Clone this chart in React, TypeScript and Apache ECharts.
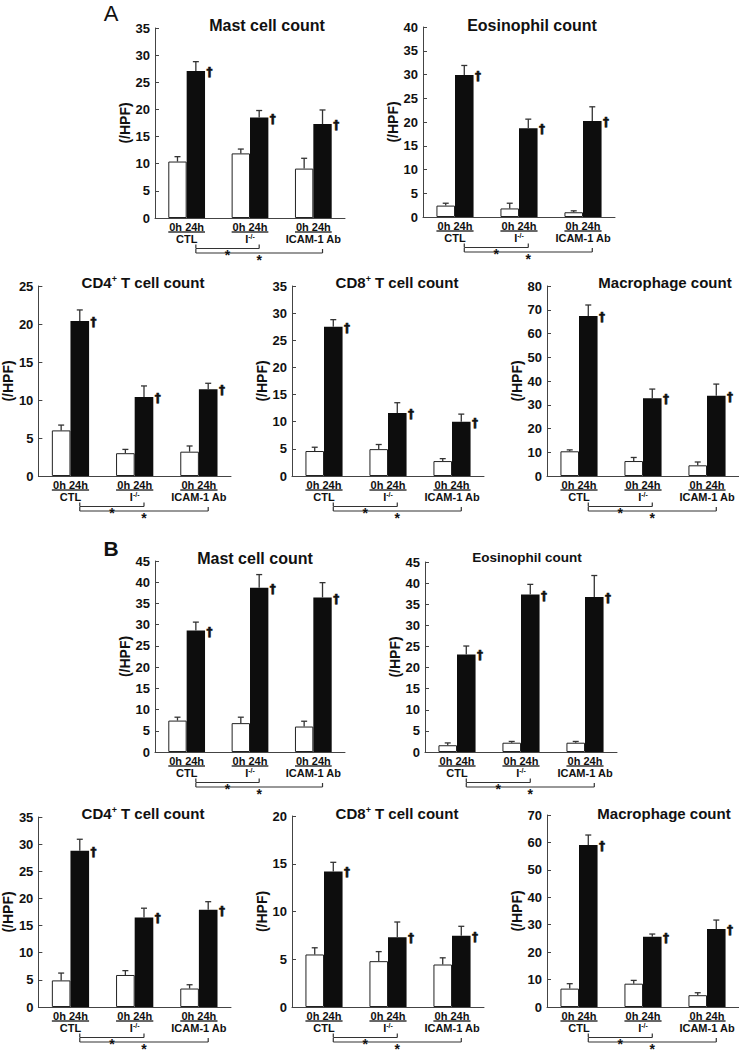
import React, { useEffect, useRef } from 'react';
import * as echarts from 'echarts';

const FONT = '"Liberation Sans", Arial, Helvetica, sans-serif';

// Categories and x-axis texts
const groups = ['CTL', 'I-/-', 'ICAM-1 Ab'];
const timeLabel = '0h 24h';
const yName = '(/HPF)';

// ---------- Panel A ----------
const aMast0h = [10.4, 11.9, 9.1];
const aMast0hErr = [0.9, 0.8, 1.9];
const aMast24h = [27.1, 18.5, 17.3];
const aMast24hErr = [1.7, 1.3, 2.6];

const aEos0h = [2.4, 1.8, 1.0];
const aEos0hErr = [0.5, 1.1, 0.3];
const aEos24h = [29.9, 18.7, 20.2];
const aEos24hErr = [2.0, 1.9, 3.0];

const aCd40h = [6.0, 3.0, 3.2];
const aCd40hErr = [0.7, 0.5, 0.75];
const aCd424h = [20.4, 10.4, 11.4];
const aCd424hErr = [1.45, 1.45, 0.8];

const aCd80h = [4.6, 4.95, 2.75];
const aCd80hErr = [0.7, 0.85, 0.45];
const aCd824h = [27.5, 11.6, 10.0];
const aCd824hErr = [1.3, 1.9, 1.4];

const aMac0h = [10.4, 6.3, 4.5];
const aMac0hErr = [0.6, 1.5, 1.4];
const aMac24h = [67.4, 32.7, 33.8];
const aMac24hErr = [4.6, 3.9, 4.9];

// ---------- Panel B ----------
const bMast0h = [7.4, 6.8, 6.0];
const bMast0hErr = [0.8, 1.4, 1.25];
const bMast24h = [28.6, 38.7, 36.4];
const bMast24hErr = [2.0, 3.1, 3.5];

const bEos0h = [1.6, 2.2, 2.2];
const bEos0hErr = [0.55, 0.3, 0.3];
const bEos24h = [23.1, 37.3, 36.7];
const bEos24hErr = [2.0, 2.4, 5.1];

const bCd40h = [4.9, 5.9, 3.4];
const bCd40hErr = [1.35, 0.8, 0.7];
const bCd424h = [28.8, 16.5, 17.9];
const bCd424hErr = [2.1, 1.7, 1.5];

const bCd80h = [5.5, 4.8, 4.45];
const bCd80hErr = [0.7, 1.0, 0.7];
const bCd824h = [14.2, 7.3, 7.45];
const bCd824hErr = [0.95, 1.6, 1.0];

const bMac0h = [6.7, 8.5, 4.3];
const bMac0hErr = [1.8, 1.2, 0.9];
const bMac24h = [59.1, 25.6, 28.4];
const bMac24hErr = [3.6, 1.0, 3.3];

// y-axis ranges (max, step) per panel
const yMax = [35, 40, 25, 35, 80, 45, 45, 35, 20, 70];
const yStep = [5, 5, 5, 5, 10, 5, 5, 5, 5, 10];

const titles = [
  'Mast cell count',
  'Eosinophil count',
  'CD4{s|+} T cell count',
  'CD8{s|+} T cell count',
  'Macrophage count',
  'Mast cell count',
  'Eosinophil count',
  'CD4{s|+} T cell count',
  'CD8{s|+} T cell count',
  'Macrophage count',
];

const panelData = [
  [aMast0h, aMast0hErr, aMast24h, aMast24hErr],
  [aEos0h, aEos0hErr, aEos24h, aEos24hErr],
  [aCd40h, aCd40hErr, aCd424h, aCd424hErr],
  [aCd80h, aCd80hErr, aCd824h, aCd824hErr],
  [aMac0h, aMac0hErr, aMac24h, aMac24hErr],
  [bMast0h, bMast0hErr, bMast24h, bMast24hErr],
  [bEos0h, bEos0hErr, bEos24h, bEos24hErr],
  [bCd40h, bCd40hErr, bCd424h, bCd424hErr],
  [bCd80h, bCd80hErr, bCd824h, bCd824hErr],
  [bMac0h, bMac0hErr, bMac24h, bMac24hErr],
];

// Layout (pixels)
const layouts = [
  { left: 155, top: 28, width: 190, height: 190, tx: 267, ty: 25, ts: 16 },
  { left: 423, top: 27, width: 192, height: 190, tx: 532, ty: 25, ts: 16 },
  { left: 38, top: 286, width: 193, height: 190, tx: 143, ty: 282, ts: 15 },
  { left: 292, top: 286, width: 192, height: 190, tx: 397, ty: 282, ts: 15 },
  { left: 547, top: 286, width: 192, height: 190, tx: 665, ty: 282, ts: 15 },
  { left: 155, top: 561, width: 190, height: 191, tx: 255, ty: 558, ts: 16 },
  { left: 425, top: 562, width: 192, height: 190, tx: 527, ty: 557, ts: 13.5 },
  { left: 38, top: 817, width: 193, height: 190, tx: 143, ty: 813, ts: 15 },
  { left: 292, top: 816, width: 192, height: 191, tx: 397, ty: 813, ts: 15 },
  { left: 547, top: 815, width: 192, height: 192, tx: 664, ty: 813, ts: 15 },
];

const BAR_FRAC = 0.29;
const INK = '#111';
const AXIS = '#444';

function textEl(text: string, x: number, y: number, size: number, extra: any = {}) {
  return {
    type: 'text',
    x,
    y,
    style: {
      text,
      fill: INK,
      fontSize: size,
      fontWeight: 'bold',
      fontFamily: FONT,
      align: 'center',
      verticalAlign: 'middle',
      ...extra,
    },
  };
}

function lineEl(x1: number, y1: number, x2: number, y2: number, w = 1.2) {
  return {
    type: 'line',
    shape: { x1, y1, x2, y2 },
    style: { stroke: '#333', lineWidth: w },
  };
}

const errorRender = (params: any, api: any) => {
  const ci = api.value(0);
  const v = api.value(1);
  const e = api.value(2);
  const side = api.value(3);
  const band = api.size([1, 0])[0];
  const bw = band * BAR_FRAC;
  const base = api.coord([ci, v]);
  const top = api.coord([ci, v + e]);
  const x = base[0] + (side * bw) / 2;
  const children: any[] = [
    lineEl(x, base[1], x, top[1], 1.3),
    lineEl(x - 3, top[1], x + 3, top[1], 1.3),
  ];
  if (side > 0) {
    children.push(
      textEl('\u2020', base[0] + bw + 4.5, base[1] + 1, 12, {
        fontFamily: '"DejaVu Sans", ' + FONT,
        stroke: INK,
        lineWidth: 0.6,
      })
    );
  }
  return { type: 'group', children };
};

const labelRender = (params: any, api: any) => {
  const ci = api.value(0);
  const p = api.coord([ci, 0]);
  const band = api.size([1, 0])[0];
  const bw = band * BAR_FRAC;
  const cx = p[0];
  const by = p[1];
  const children: any[] = [
    textEl(timeLabel, cx, by + 8.5, 11),
    lineEl(cx - bw, by + 14, cx + bw, by + 14, 1.3),
  ];
  const g = groups[ci];
  if (g === 'I-/-') {
    children.push(
      textEl('I{s|-/-}', cx, by + 20.5, 11, {
        rich: { s: { fontSize: 7, fontWeight: 'bold', fontFamily: FONT, verticalAlign: 'top', fill: INK } },
      })
    );
  } else {
    children.push(textEl(g, cx, by + 20.5, 11));
  }
  if (ci === 0) {
    const x0 = cx + bw / 2;
    const x1 = api.coord([1, 0])[0] + bw / 2;
    const x2 = api.coord([2, 0])[0] + bw / 2;
    const y1 = by + 30.5;
    const y2 = by + 35;
    children.push(lineEl(x0, y1, x1, y1), lineEl(x0, y1 - 4, x0, y1), lineEl(x1, y1 - 4, x1, y1));
    children.push(lineEl(x0, y2, x2, y2), lineEl(x0, y2 - 4, x0, y2), lineEl(x2, y2 - 4, x2, y2));
    children.push(textEl('*', (x0 + x1) / 2, y1 + 6, 14));
    children.push(textEl('*', (x0 + x2) / 2, y2 + 7, 14));
  }
  return { type: 'group', children };
};

function buildOption() {
  const grid = layouts.map((l) => ({ left: l.left, top: l.top, width: l.width, height: l.height }));
  const xAxis = layouts.map((_, i) => ({
    type: 'category',
    gridIndex: i,
    data: groups,
    axisLabel: { show: false },
    axisTick: { show: false },
    axisLine: { lineStyle: { color: AXIS, width: 1 } },
  }));
  const yAxis = layouts.map((_, i) => ({
    type: 'value',
    gridIndex: i,
    min: 0,
    max: yMax[i],
    interval: yStep[i],
    splitLine: { show: false },
    axisLine: { show: true, lineStyle: { color: AXIS, width: 1 } },
    axisTick: { show: true, inside: true, length: 4, lineStyle: { color: AXIS } },
    axisLabel: { color: INK, fontWeight: 'bold', fontSize: 13, fontFamily: FONT, margin: 5 },
    name: yName,
    nameLocation: 'middle',
    nameGap: 22,
    nameTextStyle: { color: INK, fontWeight: 'bold', fontSize: 14, fontFamily: FONT },
  }));
  const series: any[] = [];
  panelData.forEach(([v0, e0, v24, e24], i) => {
    series.push({
      type: 'bar',
      xAxisIndex: i,
      yAxisIndex: i,
      data: v0,
      barWidth: `${BAR_FRAC * 100}%`,
      barGap: '0%',
      itemStyle: { color: '#fff', borderColor: '#222', borderWidth: 1 },
      silent: true,
    });
    series.push({
      type: 'bar',
      xAxisIndex: i,
      yAxisIndex: i,
      data: v24,
      barWidth: `${BAR_FRAC * 100}%`,
      barGap: '0%',
      itemStyle: { color: '#0d0d0d' },
      silent: true,
    });
    const errData: number[][] = [];
    for (let c = 0; c < groups.length; c++) {
      errData.push([c, v0[c], e0[c], -1]);
      errData.push([c, v24[c], e24[c], 1]);
    }
    series.push({
      type: 'custom',
      xAxisIndex: i,
      yAxisIndex: i,
      data: errData,
      encode: { x: 0, y: 1 },
      renderItem: errorRender,
      silent: true,
      z: 5,
    });
    series.push({
      type: 'custom',
      xAxisIndex: i,
      yAxisIndex: i,
      data: groups.map((_, c) => [c, 0]),
      encode: { x: 0, y: 1 },
      renderItem: labelRender,
      clip: false,
      silent: true,
      z: 5,
    });
  });

  const graphic: any[] = [
    textEl('A', 111, 13, 22, { fontWeight: 'normal', fontFamily: '"Liberation Sans", Arial, sans-serif', textAlign: 'center', textVerticalAlign: 'middle' }),
    textEl('B', 111, 548, 21, { textAlign: 'center', textVerticalAlign: 'middle' }),
  ];
  layouts.forEach((l, i) => {
    graphic.push(
      textEl(titles[i], l.tx, l.ty, l.ts, {
        textAlign: 'center',
        textVerticalAlign: 'middle',
        rich: {
          s: { fontSize: Math.round(l.ts * 0.6), fontWeight: 'bold', fontFamily: FONT, verticalAlign: 'top', fill: INK },
        },
      })
    );
  });

  return {
    animation: false,
    backgroundColor: '#ffffff',
    grid,
    xAxis,
    yAxis,
    series,
    graphic,
  };
}

export default function App() {
  const ref = useRef<HTMLDivElement>(null);
  useEffect(() => {
    if (!ref.current) return;
    const chart = echarts.init(ref.current, undefined, { renderer: 'svg' });
    chart.setOption(buildOption() as any);
    return () => chart.dispose();
  }, []);
  return (
    <div
      ref={ref}
      style={{ position: 'absolute', left: 0, top: 0, width: 739, height: 1050, background: '#fff' }}
    />
  );
}
